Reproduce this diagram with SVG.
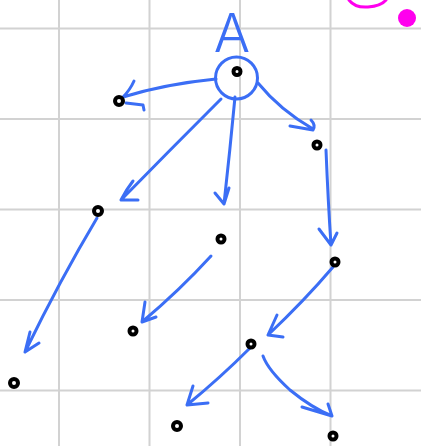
<svg xmlns="http://www.w3.org/2000/svg" width="421" height="446" viewBox="0 0 421 446">
<style>
.grid{stroke:#d2d2d2;stroke-width:2;fill:none}
.edge{stroke:#3b6ef5;stroke-width:3;fill:none;stroke-linecap:round;stroke-linejoin:round}
.dot{fill:#fff;stroke:#000;stroke-width:4}
</style>
<rect width="421" height="446" fill="#fff"/>
<g id="grid" class="grid">
<path d="M59,0V446M149.5,0V446M240,0V446M330.5,0V446M0,28.5H421M0,119H421M0,209.5H421M0,300H421M0,390.5H421"/>
</g>
<g id="magenta">
<path d="M349,0 Q355,8 368,7 Q381,6 386,0" stroke="#ff00ee" stroke-width="3" fill="none" stroke-linecap="round"/>
<circle cx="407" cy="18" r="9" fill="#ff00ee"/>
</g>
<g id="connectors" class="edge">
<path d="M216,79 Q165,84 123,97 M134,81 Q130,90 123,97 M126,103 L143,105 L144,110"/>
<path d="M258,83 Q280,110 313,129 M290,126 L313,130 M311,120 Q316,125 313,130"/>
<path d="M221,99 Q170,150 121,200 M133,181 Q126,190 121,200 L138,200"/>
<path d="M235,97 Q230,150 224,204 M215,193 L224,204 L229,188"/>
<path d="M326,150 Q328,200 331,245 M319,229 L331,245 L337,233"/>
<path d="M97,218 Q60,280 25,352 M30,332 L25,352 L39,343"/>
<path d="M211,256 Q180,290 142,322 M145,302 L142,322 L156,317"/>
<path d="M333,267 Q305,300 268,335 M277,315 L268,335 L283,337"/>
<path d="M250,348 Q220,378 187,405 M193,386 L187,405 L208,403"/>
<path d="M263,356 Q268,370 290,390 Q312,408 332,416 M302,407 L332,416 L328,404"/>
</g>
<g id="node-root">
<text x="232" y="52" font-family="Inter, 'Liberation Sans', sans-serif" font-weight="300" font-size="54" fill="#3b6ef5" text-anchor="middle">A</text>
<circle cx="236.5" cy="78" r="21" class="edge"/>
<circle cx="237" cy="71.5" r="3.5" class="dot"/>
</g>
<g id="n1"><circle cx="119" cy="101" r="4" class="dot"/></g>
<g id="n2"><circle cx="317" cy="145" r="3.5" class="dot"/></g>
<g id="n3"><circle cx="98" cy="211" r="4" class="dot"/></g>
<g id="n4"><circle cx="221" cy="239" r="3.5" class="dot"/></g>
<g id="n5"><circle cx="335" cy="262" r="3.5" class="dot"/></g>
<g id="n6"><circle cx="133" cy="331" r="3.5" class="dot"/></g>
<g id="n7"><circle cx="251" cy="344" r="3.5" class="dot"/></g>
<g id="n8"><circle cx="14" cy="383" r="4" class="dot"/></g>
<g id="n9"><circle cx="177" cy="426" r="4" class="dot"/></g>
<g id="n10"><circle cx="333" cy="436" r="3.5" class="dot"/></g>
</svg>
